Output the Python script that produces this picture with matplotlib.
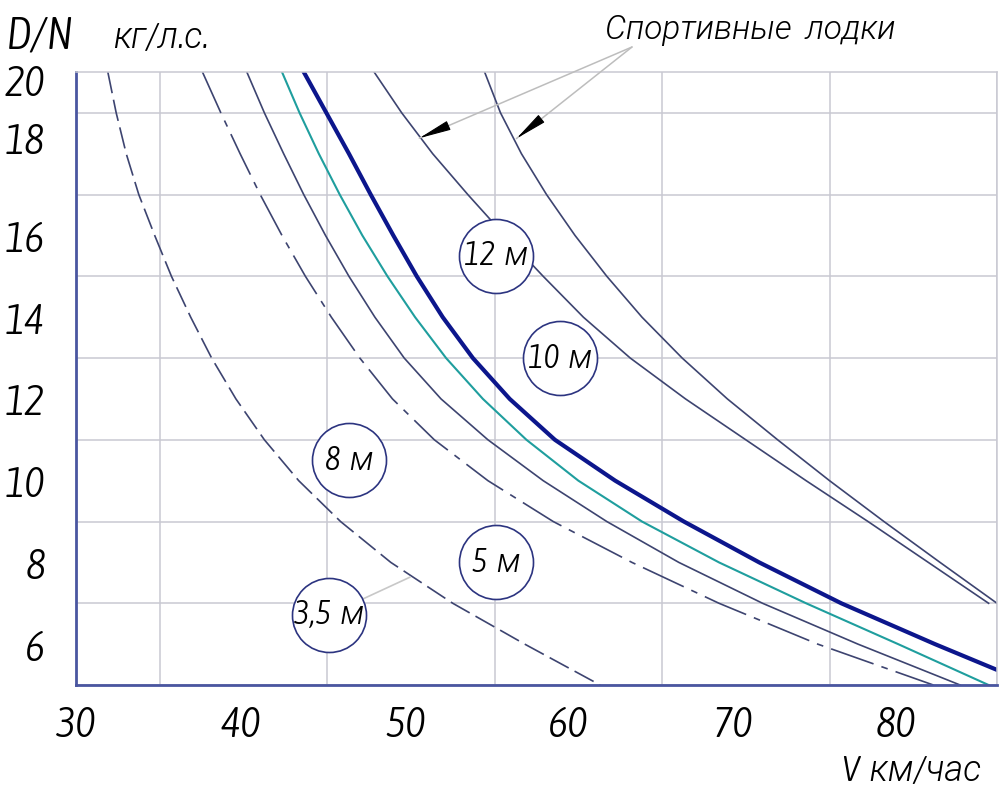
import os
import matplotlib
matplotlib.use('Agg')
import matplotlib.pyplot as plt
from matplotlib import font_manager
from matplotlib.ft2font import FT2Font
from matplotlib.font_manager import FontProperties
from matplotlib.transforms import ScaledTranslation

DIGITS = 'DNV0123456789,./'


def has_glyphs(path, chars):
    try:
        cmap = FT2Font(path).get_charmap()
    except Exception:
        return False
    return all(ord(ch) in cmap for ch in chars)


def find_narrow_font():
    # the drawing uses a thin, narrow slanted lettering, so look for a condensed face
    rank = {'ultra-condensed': 0, 'extra-condensed': 1, 'condensed': 2, 'semi-condensed': 3}
    found = []
    for f in font_manager.fontManager.ttflist:
        hint = (f.name + ' ' + os.path.basename(f.fname)).lower()
        if 'cjk' in hint or 'mono' in hint:
            continue
        st = f.stretch if isinstance(f.stretch, str) else ''
        if not ('condensed' in hint or 'narrow' in hint or st in rank):
            continue
        w = f.weight if isinstance(f.weight, (int, float)) else font_manager.weight_dict.get(f.weight, 400)
        italic = f.style in ('italic', 'oblique') or 'italic' in hint or 'oblique' in hint
        found.append(((not italic, abs(w - 300), rank.get(st, 2), hint), f, w))
    for _, f, w in sorted(found, key=lambda t: t[0]):
        if has_glyphs(f.fname, DIGITS):
            return f, w
    return None, 400


NARROW, NARROW_W = find_narrow_font()


def fp(size):
    # digits and latin from the narrow face, cyrillic falls back to Roboto italic
    if NARROW is not None:
        return FontProperties(family=[NARROW.name, 'Roboto', 'DejaVu Sans'], style=NARROW.style,
                              stretch=NARROW.stretch, weight=NARROW_W, size=size)
    return FontProperties(family=['Roboto', 'DejaVu Sans'], style='italic', size=size * 0.85)


# curves: V (km/h) at each D/N value
D_full = [20, 19, 18, 17, 16, 15, 14, 13, 12, 11, 10, 9, 8, 7, 6, 5]
V_35 = [31.9, 32.4, 33.0, 33.75, 34.7, 35.7, 36.85, 38.1, 39.55, 41.25, 43.3, 45.8, 48.8, 52.5, 56.8, 61.3]
V_5 = [37.55, 38.65, 39.8, 41.0, 42.3, 43.7, 45.25, 46.95, 48.9, 51.4, 54.6, 58.5, 63.2, 68.4, 74.3, 81.2]
V_8 = [40.2, 41.25, 42.4, 43.6, 44.9, 46.3, 47.85, 49.6, 51.8, 54.6, 57.9, 61.7, 66.0, 71.0, 76.7, 82.8]
V_teal = [42.3, 43.35, 44.5, 45.75, 47.1, 48.6, 50.25, 52.1, 54.3, 56.9, 60.0, 63.8, 68.4, 73.6, 79.1, 84.5]

D_thick = [20, 19, 18, 17, 16, 15, 14, 13, 12, 11, 10, 9, 8, 7, 6, 5.37]
V_thick = [43.6, 44.95, 46.3, 47.6, 48.95, 50.35, 51.9, 53.7, 55.9, 58.6, 62.2, 66.3, 70.8, 75.7, 81.3, 85.0]

D_sport = [20, 19, 18, 17, 16, 15, 14, 13, 12, 11, 10, 9, 8, 7]
V_sport1 = [47.8, 49.45, 51.3, 53.4, 55.6, 57.9, 60.3, 63.1, 66.4, 70.0, 73.6, 77.3, 80.9, 84.5]
V_sport2 = [54.4, 55.35, 56.6, 58.1, 59.8, 61.7, 63.8, 66.2, 68.9, 71.9, 75.0, 78.25, 81.6, 85.0]

x_ticks = [30, 40, 50, 60, 70, 80]
y_ticks = [6, 8, 10, 12, 14, 16, 18, 20]

# circle labels (text, V, D)
labels = [('12  м', 55.1, 15.5), ('10  м', 58.9, 13.0), ('8  м', 46.3, 10.5),
          ('5  м', 55.1, 8.0), ('3,5  м', 45.1, 6.72)]

LINE = '#3d4470'
fig = plt.figure(figsize=(10, 7.97), dpi=100)
ax = fig.add_axes([0.076, 0.1405, 0.921, 0.7692])
ax.set_xlim(30, 85)
ax.set_ylim(5, 20)

ax.set_xticks(range(30, 86, 5), minor=True)
ax.set_yticks(range(5, 21), minor=True)
ax.grid(which='minor', color='#c9c9d2', lw=1.1)
ax.set_xticks(x_ticks)
ax.set_yticks(y_ticks)
ax.set_xticklabels([str(v) for v in x_ticks])
ax.set_yticklabels([str(v) for v in y_ticks])
ax.tick_params(which='both', length=0)
ax.tick_params(axis='x', pad=14)
ax.tick_params(axis='y', pad=22)
for side in ['top', 'right']:
    ax.spines[side].set_color('#c9c9d2')
    ax.spines[side].set_linewidth(1.1)
for side in ['left', 'bottom']:
    ax.spines[side].set_color('#4a56a0')
    ax.spines[side].set_linewidth(2)

# lettering on the drawing drifts a little from the grid lines
x_shift = [0, -3, -5, -10, -13, -17]
y_shift = {'18': 16, '20': -8}
for lab, dx in zip(ax.get_xticklabels(), x_shift):
    lab.set_fontproperties(fp(31))
    lab.set_transform(lab.get_transform() + ScaledTranslation(dx / 100, 0, fig.dpi_scale_trans))
for lab in ax.get_yticklabels():
    lab.set_fontproperties(fp(31))
    dy = y_shift.get(lab.get_text(), 0)
    if dy:
        lab.set_transform(lab.get_transform() + ScaledTranslation(0, dy / 100, fig.dpi_scale_trans))

ax.plot(V_35, D_full, color=LINE, lw=1.2, ls=(0, (13, 4)))
ax.plot(V_5, D_full, color=LINE, lw=1.2, ls=(0, (27, 5, 4, 5)))
ax.plot(V_8, D_full, color=LINE, lw=1.2)
ax.plot(V_teal, D_full, color='#1f9e9e', lw=1.5)
ax.plot(V_thick, D_thick, color='#0c168c', lw=3)
ax.plot(V_sport1, D_sport, color=LINE, lw=1.2)
ax.plot(V_sport2, D_sport, color=LINE, lw=1.2)

for txt, v, d in labels:
    ax.scatter([v], [d], s=2840, facecolor='white', edgecolor='#2c3480', lw=1.2, zorder=4)
    ax.text(v, d, txt, ha='center', va='center', fontproperties=fp(24), zorder=5)

# leader from "3,5 м" to the dashed curve
ax.annotate('', xy=(49.95, 7.64), xytext=(45.1, 6.72),
            arrowprops=dict(arrowstyle='-', color='#c8c8c8', lw=1.2, shrinkA=27, shrinkB=0), zorder=3)

# sport boats note with two arrows
fig.text(0.750, 0.963, 'Спортивные   лодки', ha='center', va='center', fontproperties=fp(24))
for tip, off in [((50.5, 18.38), (19.8, 8.6)), ((56.3, 18.37), (16.9, 13.5))]:
    ax.annotate('', xy=tip, xytext=(632, 750), textcoords='figure pixels',
                arrowprops=dict(arrowstyle='-', color='#bdbdbd', lw=1.1, shrinkA=0, shrinkB=0),
                annotation_clip=False)
    ax.annotate('', xy=tip, xytext=off, textcoords='offset points',
                arrowprops=dict(arrowstyle='-|>,head_length=2.0,head_width=0.3', color='black',
                                lw=0.8, shrinkA=0, shrinkB=0, mutation_scale=10))

fig.text(0.040, 0.955, 'D/N', ha='center', va='center', fontproperties=fp(33))
fig.text(0.161, 0.952, 'кг/л.с.', ha='center', va='center', fontproperties=fp(26))
fig.text(0.912, 0.032, 'V  км/час', ha='center', va='center', fontproperties=fp(26))

fig.savefig('out.png', dpi=100, facecolor='white')
